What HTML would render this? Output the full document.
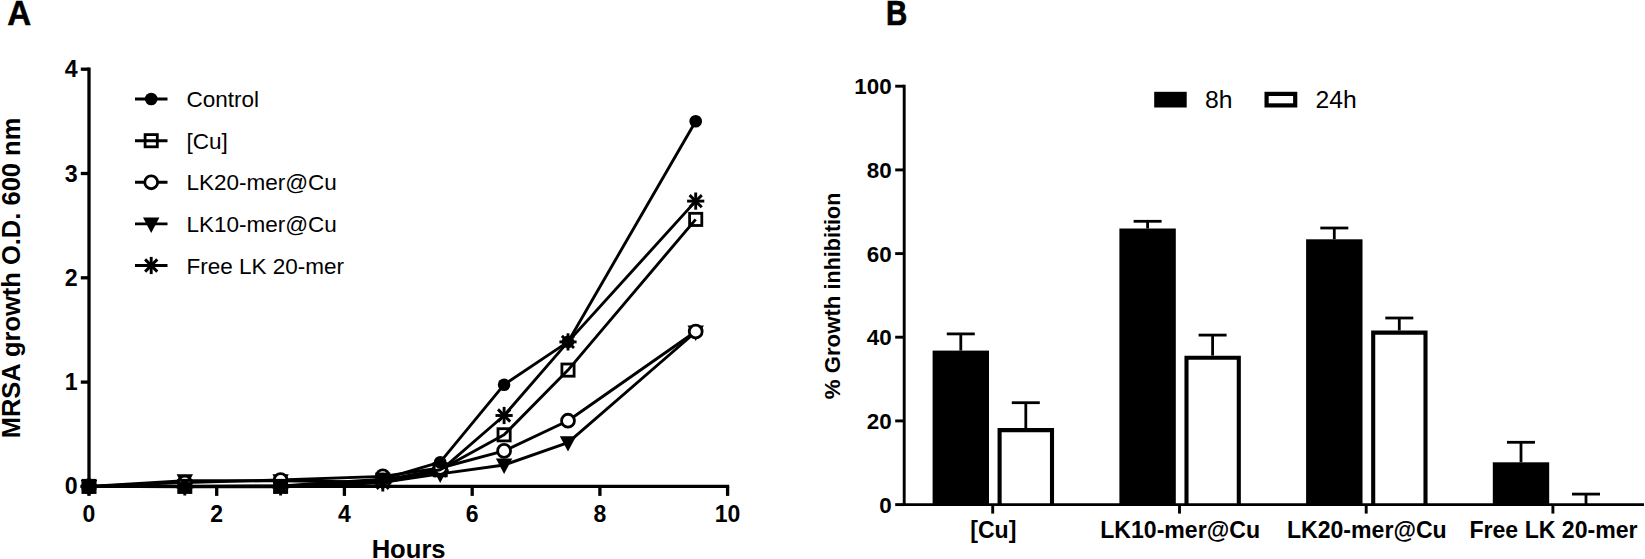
<!DOCTYPE html>
<html><head><meta charset="utf-8"><title>Figure</title>
<style>
html,body{margin:0;padding:0;background:#fff;}
body{width:1645px;height:559px;overflow:hidden;}
svg{display:block;}
text{font-family:"Liberation Sans",sans-serif;fill:#000;}
.b{font-weight:bold;}
</style></head><body>
<svg width="1645" height="559" viewBox="0 0 1645 559">
<rect width="1645" height="559" fill="#fff"/>

<text class="b" transform="translate(7.3,25) scale(0.975,1.05)" font-size="34" stroke="#000" stroke-width="0.5">A</text>
<text class="b" transform="translate(886.1,25) scale(0.865,1.05)" font-size="34" stroke="#000" stroke-width="0.7">B</text>
<g id="chartA">
<path d="M89.0 67.5 V488.0" stroke="#000" stroke-width="3.3" fill="none"/>
<path d="M87.3 486.4 H729.2" stroke="#000" stroke-width="3.3" fill="none"/>
<line x1="80.8" y1="486.4" x2="89.0" y2="486.4" stroke="#000" stroke-width="3.3"/>
<text class="b" transform="translate(77.7,494.4)" font-size="23.2" text-anchor="end">0</text>
<line x1="80.8" y1="382.1" x2="89.0" y2="382.1" stroke="#000" stroke-width="3.3"/>
<text class="b" transform="translate(77.7,390.1)" font-size="23.2" text-anchor="end">1</text>
<line x1="80.8" y1="277.8" x2="89.0" y2="277.8" stroke="#000" stroke-width="3.3"/>
<text class="b" transform="translate(77.7,285.8)" font-size="23.2" text-anchor="end">2</text>
<line x1="80.8" y1="173.5" x2="89.0" y2="173.5" stroke="#000" stroke-width="3.3"/>
<text class="b" transform="translate(77.7,181.5)" font-size="23.2" text-anchor="end">3</text>
<line x1="80.8" y1="69.2" x2="89.0" y2="69.2" stroke="#000" stroke-width="3.3"/>
<text class="b" transform="translate(77.7,77.2)" font-size="23.2" text-anchor="end">4</text>
<line x1="89.0" y1="486.4" x2="89.0" y2="495.9" stroke="#000" stroke-width="3.3"/>
<text class="b" transform="translate(89.0,521.6)" font-size="23" text-anchor="middle">0</text>
<line x1="216.7" y1="486.4" x2="216.7" y2="495.9" stroke="#000" stroke-width="3.3"/>
<text class="b" transform="translate(216.7,521.6)" font-size="23" text-anchor="middle">2</text>
<line x1="344.4" y1="486.4" x2="344.4" y2="495.9" stroke="#000" stroke-width="3.3"/>
<text class="b" transform="translate(344.4,521.6)" font-size="23" text-anchor="middle">4</text>
<line x1="472.2" y1="486.4" x2="472.2" y2="495.9" stroke="#000" stroke-width="3.3"/>
<text class="b" transform="translate(472.2,521.6)" font-size="23" text-anchor="middle">6</text>
<line x1="599.9" y1="486.4" x2="599.9" y2="495.9" stroke="#000" stroke-width="3.3"/>
<text class="b" transform="translate(599.9,521.6)" font-size="23" text-anchor="middle">8</text>
<line x1="727.6" y1="486.4" x2="727.6" y2="495.9" stroke="#000" stroke-width="3.3"/>
<text class="b" transform="translate(727.6,521.6)" font-size="23" text-anchor="middle">10</text>
<text class="b" transform="translate(408.6,557.6)" font-size="25.6" text-anchor="middle">Hours</text>
<text class="b" transform="translate(19.9,278) rotate(-90)" font-size="25.5" text-anchor="middle">MRSA growth O.D. 600 nm</text>
<polyline points="89.0,486.4 184.8,486.9 280.6,486.9 382.8,482.9 440.2,470.8 504.1,415.5 568.0,341.9 695.7,201.1" fill="none" stroke="#000" stroke-width="2.9" stroke-linejoin="round"/>
<g stroke="#000" stroke-width="2.9"><line x1="80.4" y1="486.4" x2="97.6" y2="486.4"/><line x1="89.0" y1="477.8" x2="89.0" y2="495.0"/><line x1="82.9" y1="480.3" x2="95.1" y2="492.5"/><line x1="82.9" y1="492.5" x2="95.1" y2="480.3"/></g>
<g stroke="#000" stroke-width="2.9"><line x1="176.2" y1="486.9" x2="193.4" y2="486.9"/><line x1="184.8" y1="478.3" x2="184.8" y2="495.5"/><line x1="178.7" y1="480.8" x2="190.9" y2="493.0"/><line x1="178.7" y1="493.0" x2="190.9" y2="480.8"/></g>
<g stroke="#000" stroke-width="2.9"><line x1="272.0" y1="486.9" x2="289.2" y2="486.9"/><line x1="280.6" y1="478.3" x2="280.6" y2="495.5"/><line x1="274.5" y1="480.8" x2="286.7" y2="493.0"/><line x1="274.5" y1="493.0" x2="286.7" y2="480.8"/></g>
<g stroke="#000" stroke-width="2.9"><line x1="374.2" y1="482.9" x2="391.4" y2="482.9"/><line x1="382.8" y1="474.3" x2="382.8" y2="491.5"/><line x1="376.7" y1="476.8" x2="388.8" y2="488.9"/><line x1="376.7" y1="488.9" x2="388.8" y2="476.8"/></g>
<g stroke="#000" stroke-width="2.9"><line x1="431.6" y1="470.8" x2="448.8" y2="470.8"/><line x1="440.2" y1="462.2" x2="440.2" y2="479.4"/><line x1="434.1" y1="464.7" x2="446.3" y2="476.8"/><line x1="434.1" y1="476.8" x2="446.3" y2="464.7"/></g>
<g stroke="#000" stroke-width="2.9"><line x1="495.5" y1="415.5" x2="512.7" y2="415.5"/><line x1="504.1" y1="406.9" x2="504.1" y2="424.1"/><line x1="498.0" y1="409.4" x2="510.2" y2="421.6"/><line x1="498.0" y1="421.6" x2="510.2" y2="409.4"/></g>
<g stroke="#000" stroke-width="2.9"><line x1="559.4" y1="341.9" x2="576.6" y2="341.9"/><line x1="568.0" y1="333.3" x2="568.0" y2="350.5"/><line x1="561.9" y1="335.9" x2="574.0" y2="348.0"/><line x1="561.9" y1="348.0" x2="574.0" y2="335.9"/></g>
<g stroke="#000" stroke-width="2.9"><line x1="687.1" y1="201.1" x2="704.3" y2="201.1"/><line x1="695.7" y1="192.5" x2="695.7" y2="209.7"/><line x1="689.6" y1="195.1" x2="701.8" y2="207.2"/><line x1="689.6" y1="207.2" x2="701.8" y2="195.1"/></g>
<polyline points="89.0,486.4 184.8,480.7 280.6,480.7 382.8,482.2 440.2,473.9 504.1,465.0 568.0,442.6 695.7,332.0" fill="none" stroke="#000" stroke-width="2.9" stroke-linejoin="round"/>
<polygon points="80.8,480.0 97.2,480.0 89.0,495.4" fill="#000"/>
<polygon points="176.6,474.3 193.0,474.3 184.8,489.7" fill="#000"/>
<polygon points="272.4,474.3 288.8,474.3 280.6,489.7" fill="#000"/>
<polygon points="374.6,475.8 391.0,475.8 382.8,491.2" fill="#000"/>
<polygon points="432.0,467.5 448.4,467.5 440.2,482.9" fill="#000"/>
<polygon points="495.9,458.6 512.3,458.6 504.1,474.0" fill="#000"/>
<polygon points="559.8,436.2 576.2,436.2 568.0,451.6" fill="#000"/>
<polygon points="687.5,325.6 703.9,325.6 695.7,341.0" fill="#000"/>
<polyline points="89.0,486.4 184.8,482.5 280.6,480.0 382.8,476.4 440.2,468.0 504.1,450.9 568.0,420.7 695.7,331.5" fill="none" stroke="#000" stroke-width="2.9" stroke-linejoin="round"/>
<circle cx="89.0" cy="486.4" r="6.45" fill="#fff" stroke="#000" stroke-width="2.8"/>
<circle cx="184.8" cy="482.5" r="6.45" fill="#fff" stroke="#000" stroke-width="2.8"/>
<circle cx="280.6" cy="480.0" r="6.45" fill="#fff" stroke="#000" stroke-width="2.8"/>
<circle cx="382.8" cy="476.4" r="6.45" fill="#fff" stroke="#000" stroke-width="2.8"/>
<circle cx="440.2" cy="468.0" r="6.45" fill="#fff" stroke="#000" stroke-width="2.8"/>
<circle cx="504.1" cy="450.9" r="6.45" fill="#fff" stroke="#000" stroke-width="2.8"/>
<circle cx="568.0" cy="420.7" r="6.45" fill="#fff" stroke="#000" stroke-width="2.8"/>
<circle cx="695.7" cy="331.5" r="6.45" fill="#fff" stroke="#000" stroke-width="2.8"/>
<polyline points="89.0,486.4 184.8,486.4 280.6,486.4 382.8,480.1 440.2,469.7 504.1,434.8 568.0,370.1 695.7,219.4" fill="none" stroke="#000" stroke-width="2.9" stroke-linejoin="round"/>
<rect x="82.9" y="480.3" width="12.2" height="12.2" fill="none" stroke="#000" stroke-width="2.8"/>
<rect x="178.7" y="480.3" width="12.2" height="12.2" fill="none" stroke="#000" stroke-width="2.8"/>
<rect x="274.5" y="480.3" width="12.2" height="12.2" fill="none" stroke="#000" stroke-width="2.8"/>
<rect x="376.7" y="474.0" width="12.2" height="12.2" fill="none" stroke="#000" stroke-width="2.8"/>
<rect x="434.1" y="463.6" width="12.2" height="12.2" fill="none" stroke="#000" stroke-width="2.8"/>
<rect x="498.0" y="428.7" width="12.2" height="12.2" fill="none" stroke="#000" stroke-width="2.8"/>
<rect x="561.9" y="364.0" width="12.2" height="12.2" fill="none" stroke="#000" stroke-width="2.8"/>
<rect x="689.6" y="213.3" width="12.2" height="12.2" fill="none" stroke="#000" stroke-width="2.8"/>
<polyline points="89.0,486.4 184.8,486.4 280.6,485.9 382.8,479.1 440.2,462.2 504.1,384.7 568.0,341.9 695.7,121.3" fill="none" stroke="#000" stroke-width="2.9" stroke-linejoin="round"/>
<circle cx="89.0" cy="486.4" r="6.3" fill="#000"/>
<circle cx="184.8" cy="486.4" r="6.3" fill="#000"/>
<circle cx="280.6" cy="485.9" r="6.3" fill="#000"/>
<circle cx="382.8" cy="479.1" r="6.3" fill="#000"/>
<circle cx="440.2" cy="462.2" r="6.3" fill="#000"/>
<circle cx="504.1" cy="384.7" r="6.3" fill="#000"/>
<circle cx="568.0" cy="341.9" r="6.3" fill="#000"/>
<circle cx="695.7" cy="121.3" r="6.3" fill="#000"/>
<line x1="135" y1="99.0" x2="167.5" y2="99.0" stroke="#000" stroke-width="2.9"/>
<circle cx="151.2" cy="99.0" r="6.3" fill="#000"/>
<text transform="translate(186.4,107.1)" font-size="22.5">Control</text>
<line x1="135" y1="140.7" x2="167.5" y2="140.7" stroke="#000" stroke-width="2.9"/>
<rect x="145.1" y="134.6" width="12.2" height="12.2" fill="none" stroke="#000" stroke-width="2.8"/>
<text transform="translate(186.4,148.8)" font-size="22.5">[Cu]</text>
<line x1="135" y1="182.3" x2="167.5" y2="182.3" stroke="#000" stroke-width="2.9"/>
<circle cx="151.2" cy="182.3" r="6.45" fill="#fff" stroke="#000" stroke-width="2.8"/>
<text transform="translate(186.4,190.4)" font-size="22.5">LK20-mer@Cu</text>
<line x1="135" y1="223.9" x2="167.5" y2="223.9" stroke="#000" stroke-width="2.9"/>
<polygon points="143.0,217.5 159.4,217.5 151.2,232.9" fill="#000"/>
<text transform="translate(186.4,232.0)" font-size="22.5">LK10-mer@Cu</text>
<line x1="135" y1="265.5" x2="167.5" y2="265.5" stroke="#000" stroke-width="2.9"/>
<g stroke="#000" stroke-width="2.9"><line x1="142.6" y1="265.5" x2="159.8" y2="265.5"/><line x1="151.2" y1="256.9" x2="151.2" y2="274.1"/><line x1="145.1" y1="259.4" x2="157.3" y2="271.6"/><line x1="145.1" y1="271.6" x2="157.3" y2="259.4"/></g>
<text transform="translate(186.4,273.6)" font-size="22.5">Free LK 20-mer</text>
</g>
<g id="chartB">
<line x1="992.7" y1="504.6" x2="992.7" y2="513.6" stroke="#000" stroke-width="2.9"/>
<text class="b" transform="translate(993.3,538.0)" font-size="23.1" text-anchor="middle">[Cu]</text>
<line x1="960.8" y1="333.9" x2="960.8" y2="350.6" stroke="#000" stroke-width="2.8"/>
<line x1="946.8" y1="333.9" x2="974.8" y2="333.9" stroke="#000" stroke-width="2.8"/>
<rect x="932.6" y="350.6" width="56.4" height="154.0" fill="#000"/>
<line x1="1025.8" y1="402.7" x2="1025.8" y2="428.0" stroke="#000" stroke-width="2.8"/>
<line x1="1011.8" y1="402.7" x2="1039.8" y2="402.7" stroke="#000" stroke-width="2.8"/>
<path d="M999.6 504.6 V430.1 H1052.0 V504.6" fill="#fff" stroke="#000" stroke-width="4.1"/>
<line x1="1179.5" y1="504.6" x2="1179.5" y2="513.6" stroke="#000" stroke-width="2.9"/>
<text class="b" transform="translate(1180.1,538.0)" font-size="23.1" text-anchor="middle">LK10-mer@Cu</text>
<line x1="1147.6" y1="221.3" x2="1147.6" y2="228.5" stroke="#000" stroke-width="2.8"/>
<line x1="1133.6" y1="221.3" x2="1161.6" y2="221.3" stroke="#000" stroke-width="2.8"/>
<rect x="1119.4" y="228.5" width="56.4" height="276.1" fill="#000"/>
<line x1="1212.6" y1="335.1" x2="1212.6" y2="355.6" stroke="#000" stroke-width="2.8"/>
<line x1="1198.6" y1="335.1" x2="1226.6" y2="335.1" stroke="#000" stroke-width="2.8"/>
<path d="M1186.5 504.6 V357.7 H1238.8 V504.6" fill="#fff" stroke="#000" stroke-width="4.1"/>
<line x1="1366.2" y1="504.6" x2="1366.2" y2="513.6" stroke="#000" stroke-width="2.9"/>
<text class="b" transform="translate(1366.8,538.0)" font-size="23.1" text-anchor="middle">LK20-mer@Cu</text>
<line x1="1334.3" y1="228.0" x2="1334.3" y2="239.3" stroke="#000" stroke-width="2.8"/>
<line x1="1320.3" y1="228.0" x2="1348.3" y2="228.0" stroke="#000" stroke-width="2.8"/>
<rect x="1306.1" y="239.3" width="56.4" height="265.3" fill="#000"/>
<line x1="1399.3" y1="318.0" x2="1399.3" y2="330.5" stroke="#000" stroke-width="2.8"/>
<line x1="1385.3" y1="318.0" x2="1413.3" y2="318.0" stroke="#000" stroke-width="2.8"/>
<path d="M1373.2 504.6 V332.6 H1425.5 V504.6" fill="#fff" stroke="#000" stroke-width="4.1"/>
<line x1="1552.9" y1="504.6" x2="1552.9" y2="513.6" stroke="#000" stroke-width="2.9"/>
<text class="b" transform="translate(1553.5,538.0)" font-size="23.1" text-anchor="middle">Free LK 20-mer</text>
<line x1="1521.0" y1="442.3" x2="1521.0" y2="462.3" stroke="#000" stroke-width="2.8"/>
<line x1="1507.0" y1="442.3" x2="1535.0" y2="442.3" stroke="#000" stroke-width="2.8"/>
<rect x="1492.8" y="462.3" width="56.4" height="42.3" fill="#000"/>
<line x1="1586.0" y1="494.1" x2="1586.0" y2="504.6" stroke="#000" stroke-width="2.8"/>
<line x1="1572.0" y1="494.1" x2="1600.0" y2="494.1" stroke="#000" stroke-width="2.8"/>
<path d="M904.2 84.7 V506.1" stroke="#000" stroke-width="2.9" fill="none"/>
<path d="M902.8 504.6 H1644" stroke="#000" stroke-width="2.9" fill="none"/>
<line x1="895.2" y1="504.6" x2="904.2" y2="504.6" stroke="#000" stroke-width="2.9"/>
<text class="b" transform="translate(891.7,512.6)" font-size="22.4" text-anchor="end">0</text>
<line x1="895.2" y1="420.9" x2="904.2" y2="420.9" stroke="#000" stroke-width="2.9"/>
<text class="b" transform="translate(891.7,428.9)" font-size="22.4" text-anchor="end">20</text>
<line x1="895.2" y1="337.2" x2="904.2" y2="337.2" stroke="#000" stroke-width="2.9"/>
<text class="b" transform="translate(891.7,345.2)" font-size="22.4" text-anchor="end">40</text>
<line x1="895.2" y1="253.6" x2="904.2" y2="253.6" stroke="#000" stroke-width="2.9"/>
<text class="b" transform="translate(891.7,261.6)" font-size="22.4" text-anchor="end">60</text>
<line x1="895.2" y1="169.9" x2="904.2" y2="169.9" stroke="#000" stroke-width="2.9"/>
<text class="b" transform="translate(891.7,177.9)" font-size="22.4" text-anchor="end">80</text>
<line x1="895.2" y1="86.2" x2="904.2" y2="86.2" stroke="#000" stroke-width="2.9"/>
<text class="b" transform="translate(891.7,94.2)" font-size="22.4" text-anchor="end">100</text>
<text class="b" transform="translate(840.3,399.2) rotate(-90)" font-size="22.2">% Growth <tspan font-size="21.55">inhibition</tspan></text>
<rect x="1154.2" y="91.8" width="32.5" height="15.7" fill="#000"/>
<text transform="translate(1205.0,108.3)" font-size="24.7">8h</text>
<rect x="1266.6" y="93.9" width="28.6" height="11.5" fill="#fff" stroke="#000" stroke-width="4.2"/>
<text transform="translate(1315.5,108.3)" font-size="24.7">24h</text>
</g>
</svg></body></html>
